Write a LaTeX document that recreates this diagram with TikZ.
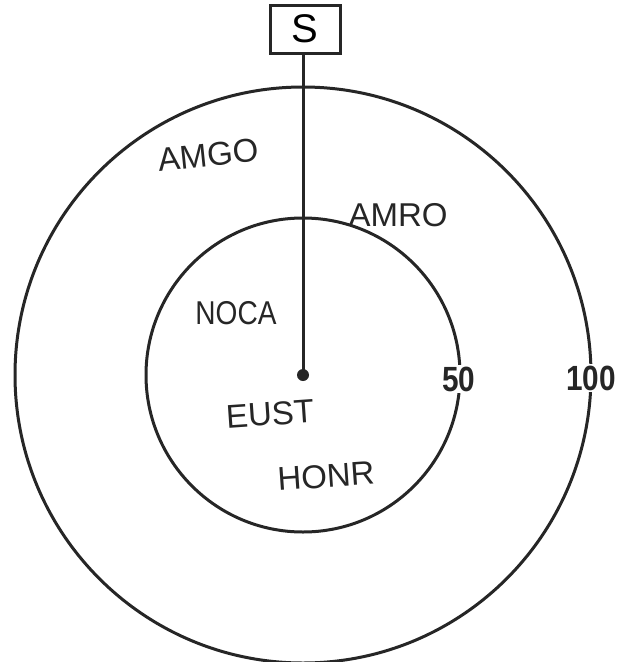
\documentclass[tikz,border=0pt]{standalone}
\usepackage{fontspec}
\setmainfont{Liberation Sans}
\begin{document}
\begin{tikzpicture}[x=1pt,y=-1pt,
  ring/.style={draw=black!85,line width=3pt},
  hand/.style={font=\fontsize{33}{33}\selectfont, text=black!85, inner sep=0pt},
  scalelbl/.style={font=\fontsize{35}{35}\selectfont\bfseries, text=black!85, fill=white, inner sep=1.5pt, xscale=0.85},
  sbox/.style={draw=black!85,line width=3pt,minimum width=70pt,minimum height=48pt,inner sep=0pt,font=\fontsize{40}{40}\selectfont}
]
\useasboundingbox (0,0) rectangle (624,662);
\fill[white] (0,0) rectangle (624,662);
\coordinate (c) at (303,375);
\draw[ring] (c) circle[radius=288];
\draw[ring] (c) circle[radius=157];
\node[sbox] (s) at (305,29) {S};
\draw[black!85,line width=3pt] (s.south -| c) -- (c);
\fill[black!85] (c) circle[radius=6];
\node[scalelbl] (l50) at (459,379) {50};
\node[scalelbl] (l100) at (591,378) {100};
\node[hand, rotate=6] (amgo) at (208,155) {AMGO};
\node[hand] (amro) at (398,215) {AMRO};
\node[hand, xscale=0.85] (noca) at (236,313) {NOCA};
\node[hand, rotate=4] (eust) at (270,414) {EUST};
\node[hand, rotate=4] (honr) at (326,476) {HONR};
\end{tikzpicture}
\end{document}
